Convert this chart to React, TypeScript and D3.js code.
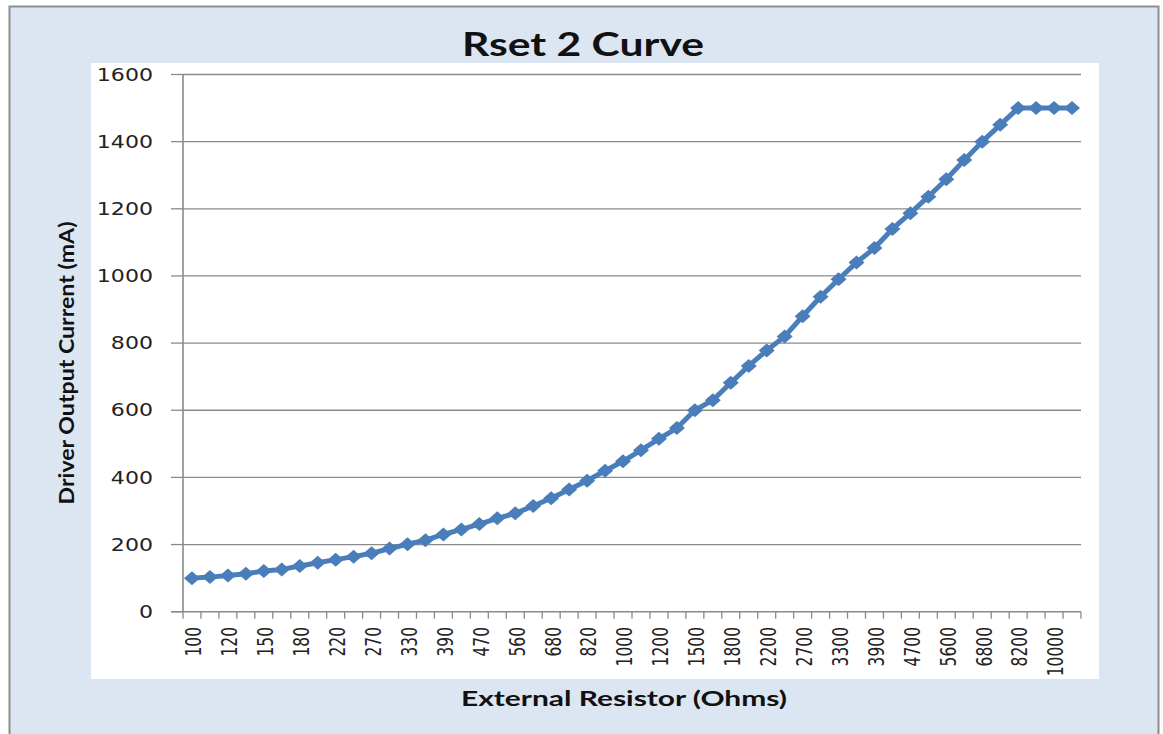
import React from "react";
import * as d3 from "d3";

const categories: string[] = [
  "100","110","120","130","150","160","180","200","220","240","270","300","330","360","390","430","470","510","560","620","680","750","820","910",
  "1000","1100","1200","1300","1500","1600","1800","2000","2200","2400","2700","3000","3300","3600","3900","4300","4700","5100","5600","6200","6800","7500","8200","9100",
  "10000","11000"
];
const currentMA: number[] = [
  100,103,108,113,121,126,136,146,155,164,174,188,201,213,230,245,261,278,293,315,338,364,390,420,
  448,481,515,547,600,630,682,732,778,820,880,938,990,1040,1083,1140,1187,1236,1288,1345,1400,1450,1500,1500,
  1500,1500
];
const yTicks: number[] = [0, 200, 400, 600, 800, 1000, 1200, 1400, 1600];
const titleText = "Rset 2 Curve";
const xTitle = "External Resistor (Ohms)";
const yTitle = "Driver Output Current (mA)";

export default function App() {
  const W = 1163, H = 734;
  const x = d3.scaleBand<string>().domain(categories).range([183, 1081]).padding(0);
  const y = d3.scaleLinear().domain([0, 1600]).range([611.7, 74.5]);
  const cx = (c: string) => (x(c) as number) + x.bandwidth() / 2;
  const line = d3.line<number>().x((_, i) => cx(categories[i])).y((v) => y(v));
  const pts = currentMA.map((v, i) => ({ x: cx(categories[i]), y: y(v) }));
  const diamond = (px: number, py: number) =>
    `M${px - 8},${py} L${px},${py - 7} L${px + 8},${py} L${px},${py + 7} Z`;
  const gridColor = "#8a8a8a";
  const blue = "#4A7EBB";
  const tickEdges = categories.map((c) => x(c) as number).concat([x.range()[1]]);

  return (
    <svg width={W} height={H} style={{ position: "absolute", left: 0, top: 0 }}>
      <rect x={0} y={0} width={W} height={H} fill="#ffffff" />
      <rect x={9.5} y={6.5} width={1149} height={760} fill="#DCE6F2" stroke="#8E8E8E" strokeWidth={2} />
      <rect x={91} y={63} width={1008} height={616} fill="#ffffff" />
      {/* title */}
      <text x={583} y={56} textAnchor="middle" fontFamily="Lato, 'Open Sans', sans-serif" fontWeight="bold" fontSize={33} fill="#111" textLength={242} lengthAdjust="spacingAndGlyphs">{titleText}</text>
      {/* grid + y ticks */}
      {yTicks.map((t) => (
        <g key={t}>
          {t > 0 && <line x1={183} x2={1081} y1={y(t)} y2={y(t)} stroke={gridColor} strokeWidth={1.3} />}
          <line x1={171} x2={183} y1={y(t)} y2={y(t)} stroke={gridColor} strokeWidth={1.3} />
          <g transform={`translate(153,${y(t)}) scale(1.3,1)`}>
            <text x={0} y={0} dy="0.36em" textAnchor="end" fontFamily="'DejaVu Sans', Verdana, sans-serif" fontSize={17} fill="#222">{t}</text>
          </g>
        </g>
      ))}
      {/* axes */}
      <line x1={183} x2={183} y1={74.5} y2={612} stroke={gridColor} strokeWidth={1.6} />
      <line x1={171} x2={1081} y1={y(0)} y2={y(0)} stroke={gridColor} strokeWidth={1.6} />
      {tickEdges.map((tx, i) => (
        <line key={i} x1={tx} x2={tx} y1={y(0)} y2={y(0) + 7} stroke={gridColor} strokeWidth={1.3} />
      ))}
      {/* x labels */}
      {categories.map((c, i) =>
        i % 2 === 0 ? (
          <g key={c} transform={`translate(${cx(c) + 1.5},627) scale(1.4,1) rotate(-90)`}>
            <text x={0} y={0} dy="0.36em" textAnchor="end" fontFamily="'DejaVu Sans', Verdana, sans-serif" fontSize={15.5} fill="#222">{c}</text>
          </g>
        ) : null
      )}
      {/* series */}
      <path d={line(currentMA) || ""} fill="none" stroke={blue} strokeWidth={5} strokeLinejoin="round" />
      {pts.map((p, i) => (
        <path key={i} d={diamond(p.x, p.y)} fill={blue} />
      ))}
      {/* axis titles */}
      <text x={624} y={706} textAnchor="middle" fontFamily="Lato, 'Open Sans', sans-serif" fontWeight="bold" fontSize={21} fill="#111" textLength={326} lengthAdjust="spacingAndGlyphs">{xTitle}</text>
      <text transform="translate(74,363) rotate(-90)" x={0} y={0} textAnchor="middle" fontFamily="Lato, 'Open Sans', sans-serif" fontWeight="bold" fontSize={21} fill="#111" textLength={283} lengthAdjust="spacingAndGlyphs">{yTitle}</text>
    </svg>
  );
}
